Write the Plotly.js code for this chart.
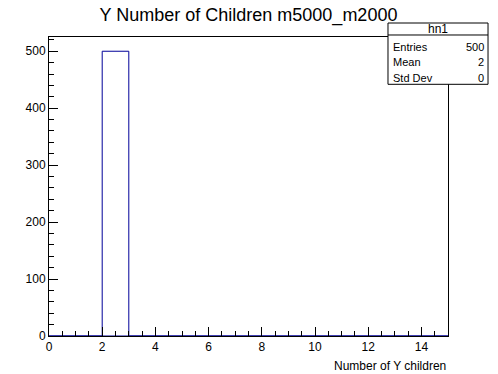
<!DOCTYPE html>
<html>
<head>
<meta charset="utf-8">
<script src="https://cdn.plot.ly/plotly-3.0.1.min.js"></script>
<style>html,body{margin:0;padding:0;background:#fff;}#chart{width:498px;height:374px;}</style>
</head>
<body>
<div id="chart"></div>
<script>
// Bin centers (Number of Y children), bin width 1, range 0..15
const binCenters = [0.5,1.5,2.5,3.5,4.5,5.5,6.5,7.5,8.5,9.5,10.5,11.5,12.5,13.5,14.5];
const binCounts  = [0,0,500,0,0,0,0,0,0,0,0,0,0,0,0];
const statLabels = ["Entries","Mean","Std Dev"];
const statValues = ["500","2","0"];
const histName = "hn1";

const font = "Liberation Sans, Arial, Helvetica, sans-serif";

const trace = {
  type: "bar",
  x: binCenters,
  y: binCounts,
  width: 1,
  marker: {color: "rgba(0,0,0,0)", line: {color: "#000099", width: 1}},
  hoverinfo: "x+y"
};

// stats box geometry (paper coords)
const bx0 = 0.8496, bx1 = 1.1003, byTop = 1.0468, bySep = 1.0067, byBot = 0.8418;
const rowY = [0.9682, 0.9164, 0.8645];

const annotations = [
  {text: histName, xref: "paper", yref: "paper", x: (bx0+bx1)/2, y: (byTop+bySep)/2,
   xanchor: "center", yanchor: "middle", showarrow: false, font: {family: font, size: 12, color: "#000"}},
  {text: "Number of Y children", xref: "paper", yref: "paper", x: 1, y: -0.07,
   xanchor: "right", yanchor: "top", showarrow: false, font: {family: font, size: 12, color: "#000"}}
];
statLabels.forEach((lab, i) => {
  annotations.push({text: lab, xref: "paper", yref: "paper", x: 0.858, y: rowY[i],
    xanchor: "left", yanchor: "middle", showarrow: false, font: {family: font, size: 11, color: "#000"}});
  annotations.push({text: statValues[i], xref: "paper", yref: "paper", x: 1.094, y: rowY[i],
    xanchor: "right", yanchor: "middle", showarrow: false, font: {family: font, size: 11, color: "#000"}});
});

const layout = {
  width: 498, height: 374,
  margin: {l: 49, r: 50, t: 37, b: 38},
  paper_bgcolor: "#fff", plot_bgcolor: "#fff",
  showlegend: false,
  bargap: 0,
  font: {family: font, size: 12, color: "#000"},
  title: {text: "Y Number of Children m5000_m2000", x: 0.5, xanchor: "center", y: 0.962, yanchor: "middle",
          xref: "paper", font: {family: font, size: 18, color: "#000"}},
  xaxis: {
    range: [0, 15], showgrid: false, zeroline: false,
    showline: true, linecolor: "#000", linewidth: 1, mirror: true,
    ticks: "inside", ticklen: 9, tickcolor: "#000", dtick: 2, tick0: 0,
    tickfont: {family: font, size: 12, color: "#000"},
    minor: {ticks: "inside", ticklen: 5, dtick: 0.5, tickcolor: "#000", showgrid: false}
  },
  yaxis: {
    range: [0, 525], showgrid: false, zeroline: false,
    showline: true, linecolor: "#000", linewidth: 1, mirror: true,
    ticks: "inside", ticklen: 9, tickcolor: "#000", dtick: 100, tick0: 0,
    tickfont: {family: font, size: 12, color: "#000"},
    minor: {ticks: "inside", ticklen: 5, dtick: 20, tickcolor: "#000", showgrid: false}
  },
  shapes: [
    {type: "rect", xref: "paper", yref: "paper", x0: bx0, x1: bx1, y0: byBot, y1: byTop,
     line: {color: "#000", width: 1}, fillcolor: "#fff", layer: "above"},
    {type: "line", xref: "paper", yref: "paper", x0: bx0, x1: bx1, y0: bySep, y1: bySep,
     line: {color: "#000", width: 1}, layer: "above"}
  ],
  annotations: annotations
};

Plotly.newPlot("chart", [trace], layout, {displayModeBar: false, staticPlot: true});
</script>
</body>
</html>
